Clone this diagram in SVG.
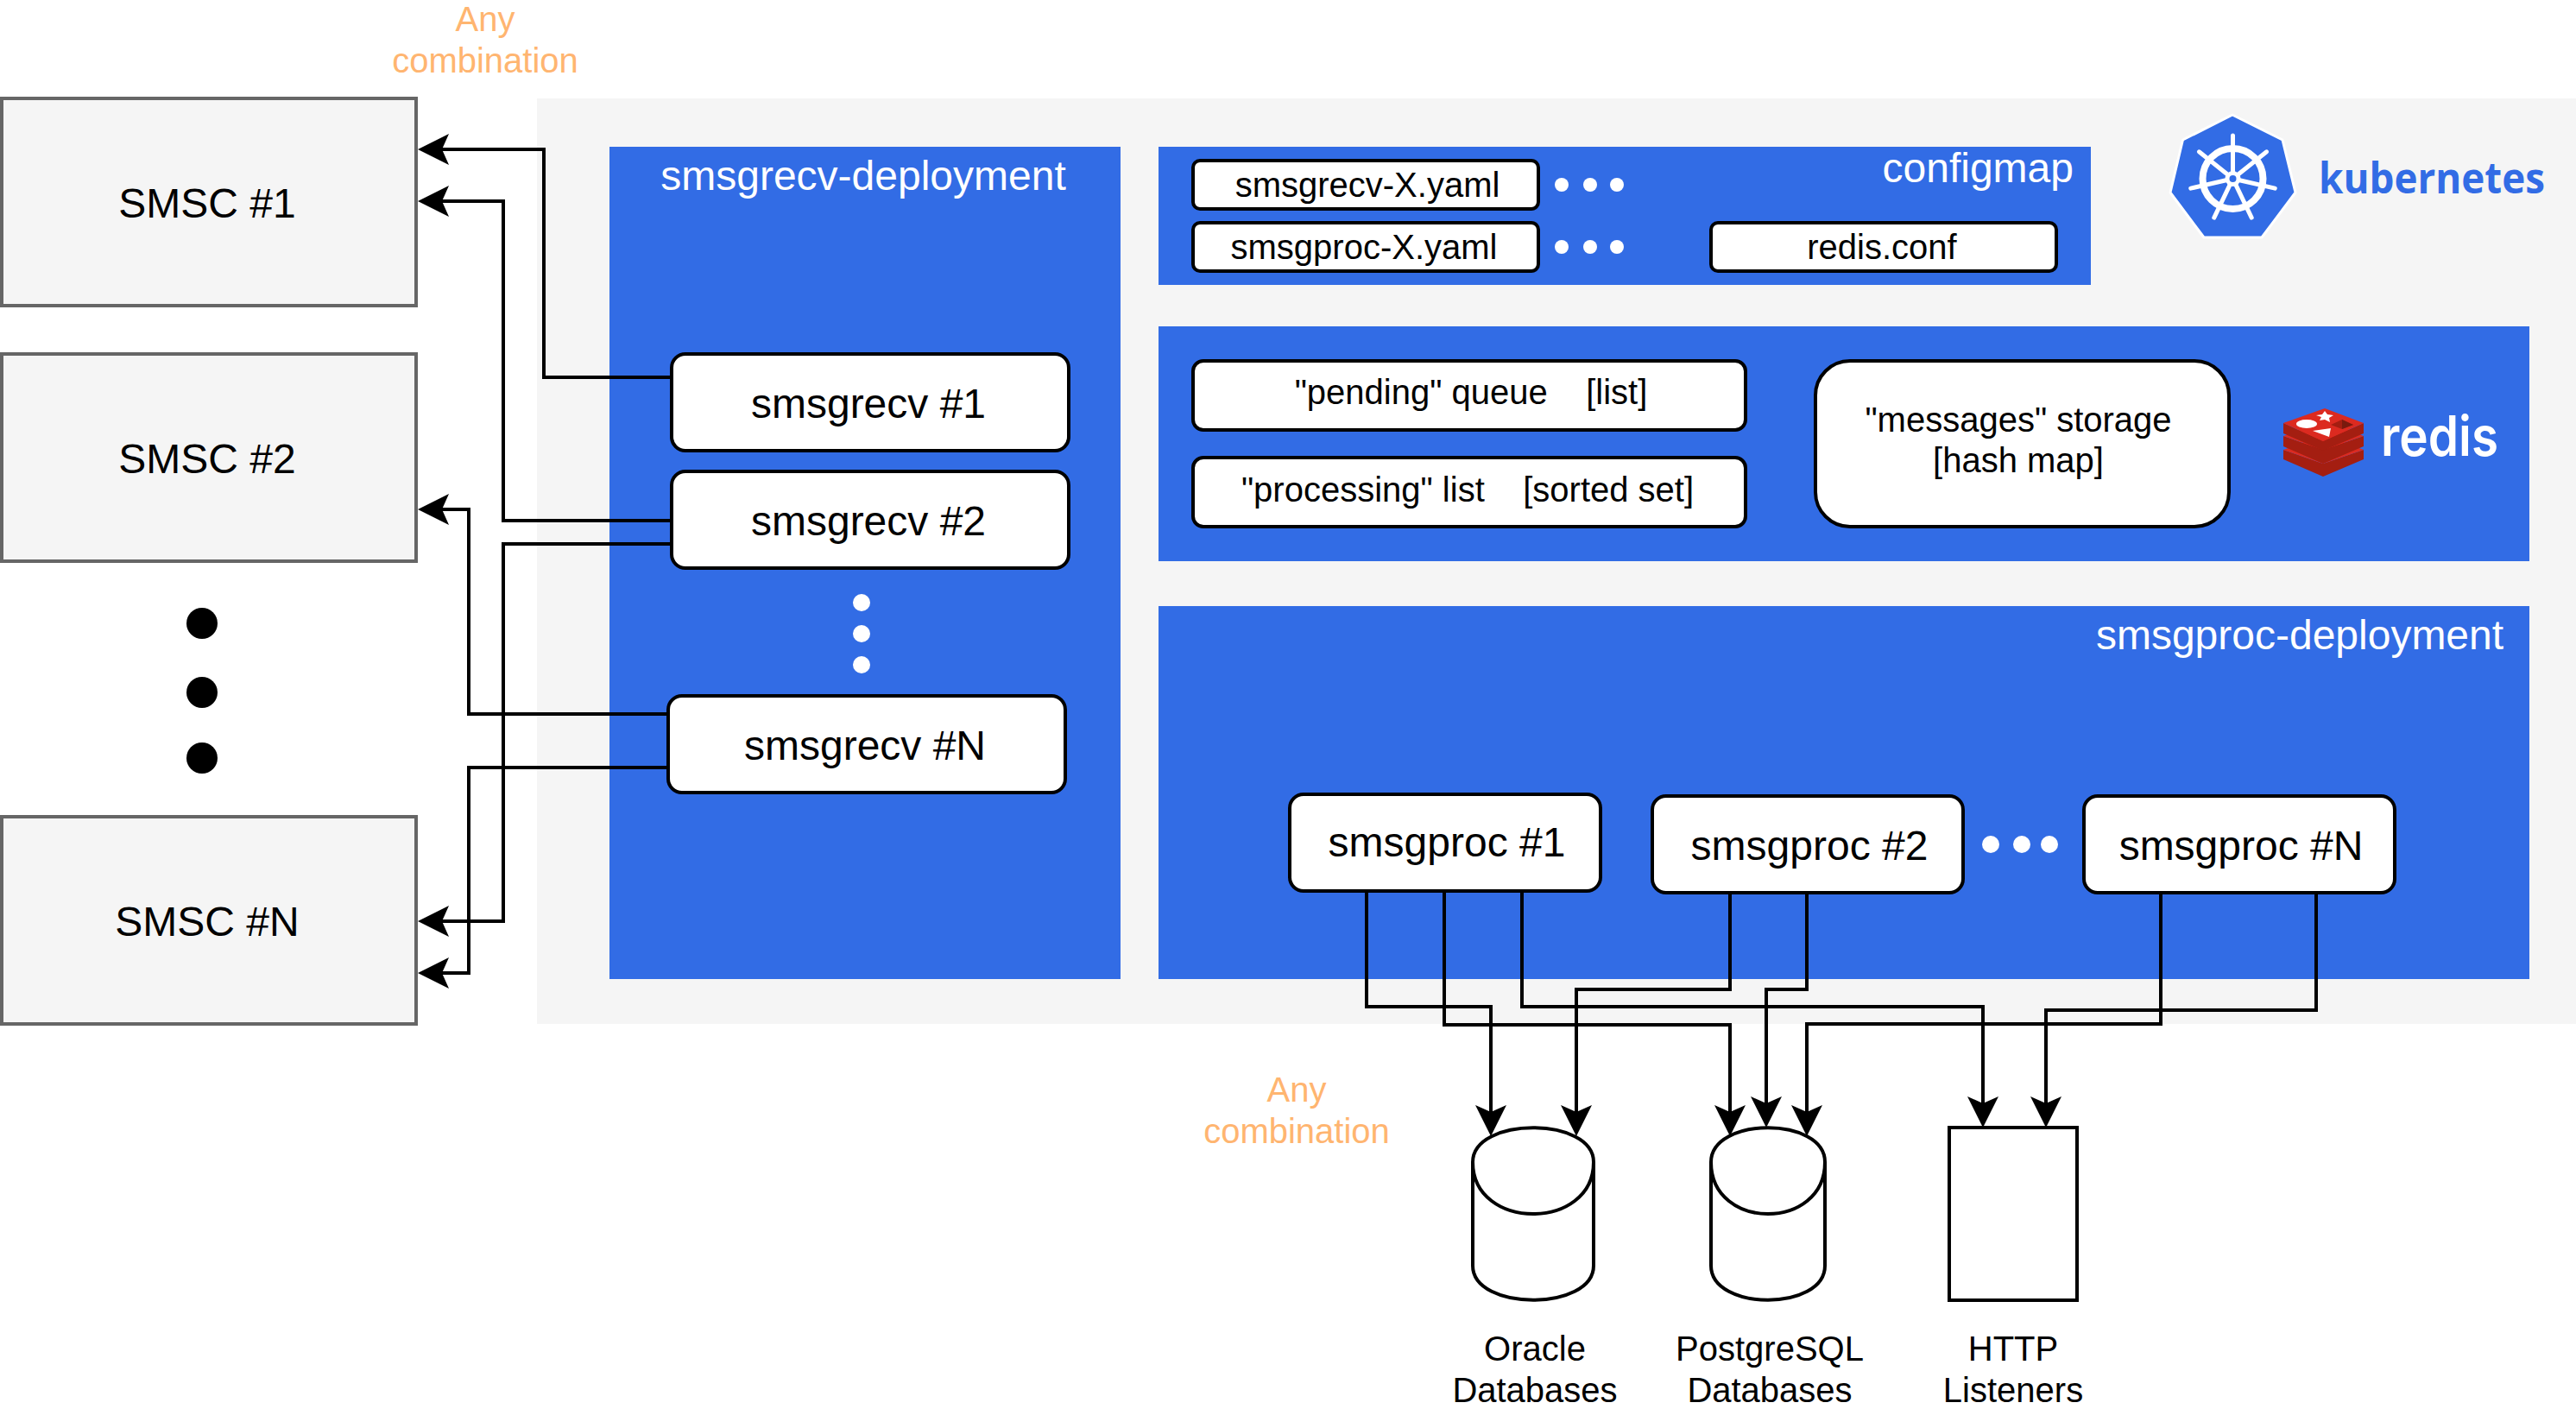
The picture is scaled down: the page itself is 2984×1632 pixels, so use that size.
<svg xmlns="http://www.w3.org/2000/svg" width="2984" height="1632" viewBox="0 0 2984 1632">
<style>
text{font-family:"Liberation Sans",Arial,sans-serif;text-anchor:middle;fill:#000;white-space:pre}
.blue{fill:#326ce5}
.smsc{fill:#f5f5f5;stroke:#666;stroke-width:4}
.box{fill:#fff;stroke:#000;stroke-width:4}
.f48{font-size:48px}.f40{font-size:40px}
.wt{fill:#fff}
.orange{fill:#ffb570;font-size:40px}
.line{fill:none;stroke:#000;stroke-width:4;marker-end:url(#arrow)}
.shape{fill:#fff;stroke:#000;stroke-width:4}
</style>
<defs>
<marker id="arrow" markerUnits="userSpaceOnUse" markerWidth="36" markerHeight="36" viewBox="0 0 36 36" refX="8" refY="18" orient="auto" overflow="visible"><path d="M36,18L0,0L8,18L0,36Z" fill="#000"/></marker>
<g id="spoke"><path d="M0,-8L0,-50" stroke="#fff" stroke-width="5" stroke-linecap="round" fill="none"/></g>
</defs>
<rect id="k8s-background" x="622" y="114" width="2362" height="1072" fill="#f5f5f5"/>
<g id="smsc-1"><rect class="smsc" x="2" y="114" width="480" height="240"/><text class="f48" x="240" y="252">SMSC #1</text></g>
<g id="smsc-2"><rect class="smsc" x="2" y="410" width="480" height="240"/><text class="f48" x="240" y="548">SMSC #2</text></g>
<g id="smsc-n"><rect class="smsc" x="2" y="946" width="480" height="240"/><text class="f48" x="240" y="1084">SMSC #N</text></g>
<g id="smsc-dots"><circle cx="234" cy="722" r="18"/><circle cx="234" cy="802" r="18"/><circle cx="234" cy="878" r="18"/></g>
<g id="any-top"><text class="orange" x="562" y="36">Any</text><text class="orange" x="562" y="84">combination</text></g>
<g id="any-bottom"><text class="orange" x="1502" y="1276">Any</text><text class="orange" x="1502" y="1324">combination</text></g>
<g id="recv-deployment"><rect class="blue" x="706" y="170" width="592" height="964"/><text class="f48 wt" x="1000" y="220">smsgrecv-deployment</text>
<circle class="wt" cx="998" cy="698" r="10"/><circle class="wt" cx="998" cy="734" r="10"/><circle class="wt" cx="998" cy="770" r="10"/></g>
<g id="configmap"><rect class="blue" x="1342" y="170" width="1080" height="160"/><text class="f48 wt" x="2402" y="211" style="text-anchor:end">configmap</text>
<circle class="wt" cx="1809" cy="214" r="8"/><circle class="wt" cx="1842" cy="214" r="8"/><circle class="wt" cx="1873" cy="214" r="8"/>
<circle class="wt" cx="1809" cy="286" r="8"/><circle class="wt" cx="1842" cy="286" r="8"/><circle class="wt" cx="1873" cy="286" r="8"/></g>
<g id="redis-panel"><rect class="blue" x="1342" y="378" width="1588" height="272"/></g>
<g id="proc-deployment"><rect class="blue" x="1342" y="702" width="1588" height="432"/><text class="f48 wt" x="2664" y="752">smsgproc-deployment</text>
<circle class="wt" cx="2306" cy="978" r="10"/><circle class="wt" cx="2342" cy="978" r="10"/><circle class="wt" cx="2374" cy="978" r="10"/></g>
<g id="connectors">
<path class="line" d="M778,437H630V173H512"/>
<path class="line" d="M778,603H583V233H512"/>
<path class="line" d="M778,630H583V1067H512"/>
<path class="line" d="M774,827H543V590H512"/>
<path class="line" d="M774,889H543V1127H512"/>
<path class="line" d="M1583,1032V1166H1727V1288"/>
<path class="line" d="M1673,1032V1187H2004V1288"/>
<path class="line" d="M1763,1032V1166H2297V1278"/>
<path class="line" d="M2004,1034V1146H1826V1288"/>
<path class="line" d="M2093,1034V1146H2046V1278"/>
<path class="line" d="M2503,1034V1186H2093V1288"/>
<path class="line" d="M2683,1034V1170H2370V1278"/>
</g>
<g id="recv-1"><rect class="box" x="778" y="410" width="460" height="112" rx="16"/><text class="f48" x="1006" y="484">smsgrecv #1</text></g>
<g id="recv-2"><rect class="box" x="778" y="546" width="460" height="112" rx="16"/><text class="f48" x="1006" y="620">smsgrecv #2</text></g>
<g id="recv-n"><rect class="box" x="774" y="806" width="460" height="112" rx="16"/><text class="f48" x="1002" y="880">smsgrecv #N</text></g>
<g id="yaml-recv"><rect class="box" x="1382" y="186" width="400" height="56" rx="8"/><text class="f40" x="1584" y="228">smsgrecv-X.yaml</text></g>
<g id="yaml-proc"><rect class="box" x="1382" y="258" width="400" height="56" rx="8"/><text class="f40" x="1580" y="300">smsgproc-X.yaml</text></g>
<g id="redis-conf"><rect class="box" x="1982" y="258" width="400" height="56" rx="8"/><text class="f40" x="2180" y="300">redis.conf</text></g>
<g id="pending"><rect class="box" x="1382" y="418" width="640" height="80" rx="12"/><text class="f40" x="1704" y="468">"pending" queue    [list]</text></g>
<g id="processing"><rect class="box" x="1382" y="530" width="640" height="80" rx="12"/><text class="f40" x="1700" y="581">"processing" list    [sorted set]</text></g>
<g id="messages"><rect class="box" x="2103" y="418" width="479" height="192" rx="40"/><text class="f40" x="2338" y="500">"messages" storage</text><text class="f40" x="2338" y="547">[hash map]</text></g>
<g id="proc-1"><rect class="box" x="1494" y="920" width="360" height="112" rx="16"/><text class="f48" x="1676" y="992">smsgproc #1</text></g>
<g id="proc-2"><rect class="box" x="1914" y="922" width="360" height="112" rx="16"/><text class="f48" x="2096" y="996">smsgproc #2</text></g>
<g id="proc-n"><rect class="box" x="2414" y="922" width="360" height="112" rx="16"/><text class="f48" x="2596" y="996">smsgproc #N</text></g>
<g id="oracle"><path class="shape" d="M1706,1346C1706,1293 1846,1293 1846,1346V1466C1846,1519 1706,1519 1706,1466ZM1706,1346C1706,1426 1846,1426 1846,1346"/><text class="f40" x="1778" y="1576">Oracle</text><text class="f40" x="1778" y="1624">Databases</text></g>
<g id="postgres"><path class="shape" d="M1982,1346C1982,1293 2114,1293 2114,1346V1466C2114,1519 1982,1519 1982,1466ZM1982,1346C1982,1426 2114,1426 2114,1346"/><text class="f40" x="2050" y="1576">PostgreSQL</text><text class="f40" x="2050" y="1624">Databases</text></g>
<g id="http"><rect class="shape" x="2258" y="1306" width="148" height="200"/><text class="f40" x="2332" y="1576">HTTP</text><text class="f40" x="2332" y="1624">Listeners</text></g>
<g id="kubernetes-logo">
<path d="M2586,133L2644,162L2659,223L2620,275H2553L2514,223L2528.500,162Z" fill="#326ce5" stroke="#fff" stroke-width="3" stroke-linejoin="round"/>
<circle cx="2586.500" cy="207" r="35" fill="none" stroke="#fff" stroke-width="8"/>
<g transform="translate(2586.500,207)"><use href="#spoke"/><use href="#spoke" transform="rotate(51.43)"/><use href="#spoke" transform="rotate(102.86)"/><use href="#spoke" transform="rotate(154.29)"/><use href="#spoke" transform="rotate(205.71)"/><use href="#spoke" transform="rotate(257.14)"/><use href="#spoke" transform="rotate(308.57)"/><circle r="9" fill="#fff"/><circle r="4" fill="#326ce5"/></g>
<text x="2686" y="224" textLength="262" lengthAdjust="spacingAndGlyphs" style="font-family:'Open Sans',sans-serif;font-weight:700;font-size:50px;text-anchor:start;fill:#326ce5">kubernetes</text>
</g>
<g id="redis-logo">
<path d="M2645,521L2691,537L2738,521V532L2691,552L2645,532Z" fill="#a41e11"/>
<path d="M2645,521L2693,504L2738,521L2691,537Z" fill="#dc2a20"/>
<path d="M2645,505L2691,521L2738,505V517L2691,537L2645,517Z" fill="#a41e11"/>
<path d="M2645,505L2693,488L2738,505L2691,521Z" fill="#dc2a20"/>
<path d="M2645,490L2691,511L2738,490V502L2691,522L2645,502Z" fill="#a41e11"/>
<path d="M2645,490L2693,473L2738,490L2691,511Z" fill="#dc2a20"/>
<ellipse cx="2672" cy="491" rx="12" ry="5" fill="#fff"/>
<path d="M2693,476L2696,480L2703,481L2698,484L2699,489L2693,486L2687,487L2689,483L2683,481L2690,480Z" fill="#fff"/>
<path d="M2679,499L2700,496L2698,506Z" fill="#fff"/>
<path d="M2700,492L2713,486L2726,492L2713,497Z" fill="#a41e11"/>
<path d="M2713,486L2726,492L2713,497Z" fill="#7a1a0e"/>
<text x="2758" y="528" textLength="136" lengthAdjust="spacingAndGlyphs" style="font-family:'Inter',sans-serif;font-weight:600;font-size:64px;text-anchor:start;fill:#fff">redis</text>
</g>
</svg>
